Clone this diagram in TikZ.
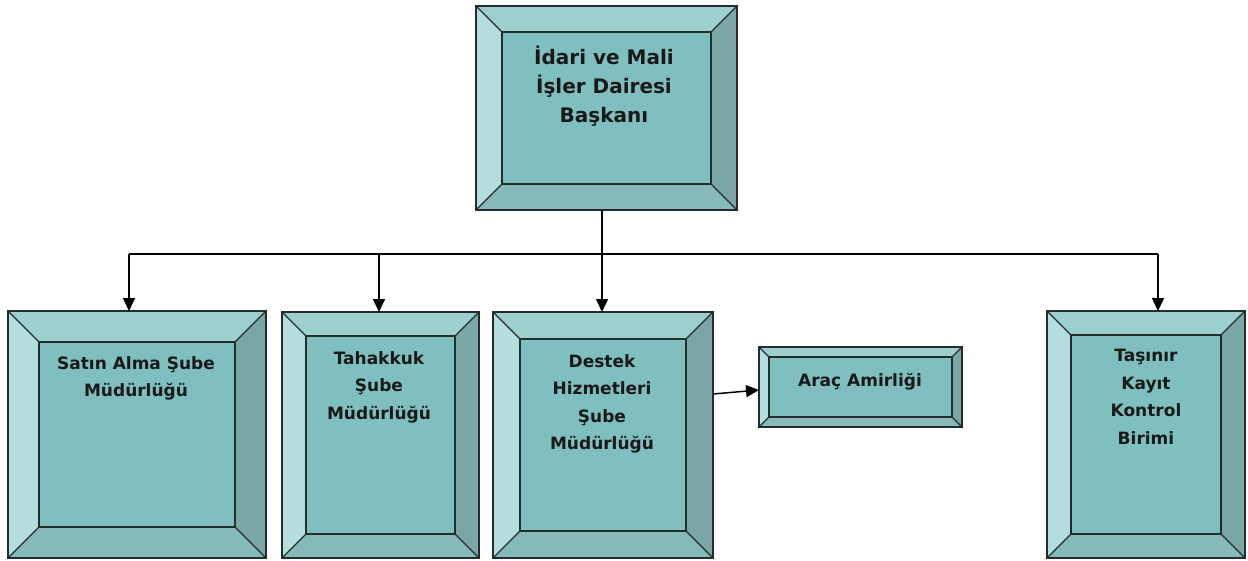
\documentclass[tikz,border=0pt]{standalone}
\usepackage{fontspec}
\setmainfont{DejaVu Sans}
\usetikzlibrary{arrows.meta,calc}
\definecolor{cTop}{RGB}{158,207,207}
\definecolor{cLeft}{RGB}{180,221,221}
\definecolor{cRight}{RGB}{122,166,166}
\definecolor{cBot}{RGB}{134,185,185}
\definecolor{cMid}{RGB}{128,191,191}
\definecolor{cLine}{RGB}{35,45,45}
\tikzset{
  frame/.style={rectangle, inner sep=0pt, outer sep=0pt},
  bevline/.style={draw=cLine, line width=1.3pt, line join=miter},
  lbl/.style={align=center, inner sep=0pt, anchor=north, text=black!90},
  big/.style={font=\fontsize{20}{29}\selectfont\bfseries},
  small/.style={font=\fontsize{17}{27.5}\selectfont\bfseries},
  edge/.style={draw=black, line width=1.5pt},
  arr/.style={edge, -{Triangle[width=12pt,length=13pt]}},
}
\newcommand\bevbox[6]{%
  \node[frame, minimum width={#4-#2}, minimum height={#5-#3}] (#1) at ({(#2+#4)/2},{(#3+#5)/2}) {};
  \coordinate (#1-a) at ($(#1.north west)+(#6,#6)$);
  \coordinate (#1-b) at ($(#1.north east)+(-#6,#6)$);
  \coordinate (#1-c) at ($(#1.south east)+(-#6,-#6)$);
  \coordinate (#1-d) at ($(#1.south west)+(#6,-#6)$);
  \fill[cTop] (#1.north west) -- (#1.north east) -- (#1-b) -- (#1-a) -- cycle;
  \fill[cRight] (#1.north east) -- (#1.south east) -- (#1-c) -- (#1-b) -- cycle;
  \fill[cBot] (#1.south east) -- (#1.south west) -- (#1-d) -- (#1-c) -- cycle;
  \fill[cLeft] (#1.south west) -- (#1.north west) -- (#1-a) -- (#1-d) -- cycle;
  \fill[cMid] (#1-a) rectangle (#1-c);
  \draw[bevline] (#1.north west) rectangle (#1.south east);
  \draw[bevline] (#1-a) rectangle (#1-c);
  \draw[bevline] (#1.north west) -- (#1-a);
  \draw[bevline] (#1.north east) -- (#1-b);
  \draw[bevline] (#1.south east) -- (#1-c);
  \draw[bevline] (#1.south west) -- (#1-d);
}
\begin{document}
\begin{tikzpicture}[x=1pt,y=-1pt]
  \useasboundingbox[fill=white] (0,0) rectangle (1248,560);
  \bevbox{top}{476}{6}{737}{210}{26}
  \bevbox{b1}{8}{311}{266}{558}{31}
  \bevbox{b2}{282}{312}{479}{558}{24}
  \bevbox{b3}{493}{312}{713}{558}{27}
  \bevbox{ar}{759}{347}{962}{427}{10}
  \bevbox{b5}{1047}{311}{1245}{558}{24}

  \node[lbl, big] (ttop) at (604,46) {İdari ve Mali\\İşler Dairesi\\Başkanı};
  \node[lbl, small] (t1) at (136,356) {Satın Alma Şube\\Müdürlüğü};
  \node[lbl, small] (t2) at (379,351) {Tahakkuk\\Şube\\Müdürlüğü};
  \node[lbl, small] (t3) at (602,354) {Destek\\Hizmetleri\\Şube\\Müdürlüğü};
  \node[lbl, small] (tar) at (860,373) {Araç Amirliği};
  \node[lbl, small] (t5) at (1146,349) {Taşınır\\Kayıt\\Kontrol\\Birimi};

  \coordinate (j) at (602,254);
  \coordinate (h1) at (129,254);
  \coordinate (h2) at (379,254);
  \coordinate (h5) at (1158,254);
  \coordinate (s3) at (713,394);
  \draw[edge] (j |- top.south) -- (j);
  \draw[edge] (h1) -- (h5);
  \draw[arr] (h1) -- (h1 |- b1.north);
  \draw[arr] (h2) -- (h2 |- b2.north);
  \draw[arr] (j) -- (j |- b3.north);
  \draw[arr] (h5) -- (h5 |- b5.north);
  \draw[arr] (s3) -- ($(ar.west)+(0,3)$);
\end{tikzpicture}
\end{document}
